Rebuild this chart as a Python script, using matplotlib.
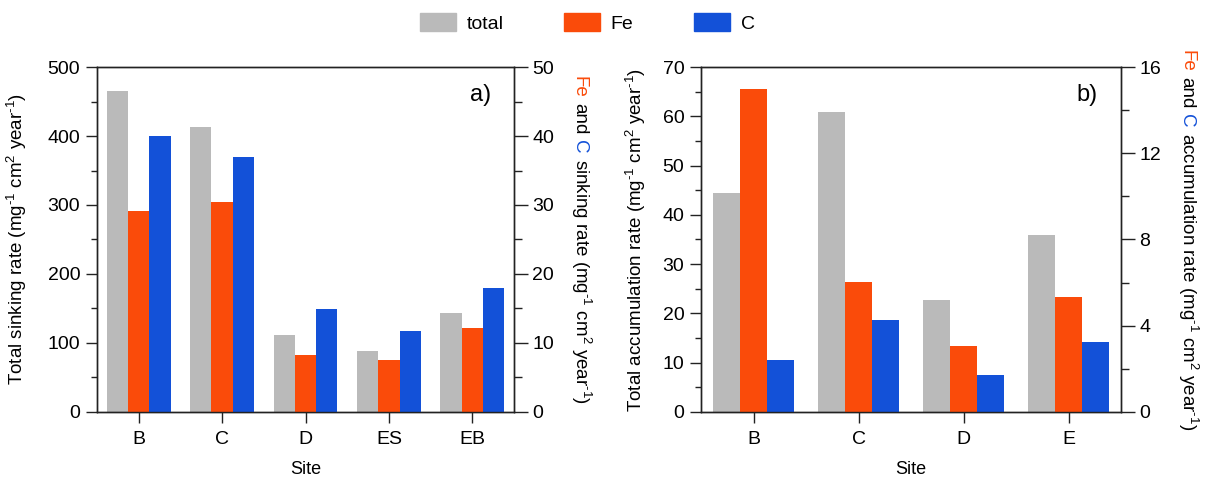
import matplotlib
matplotlib.use("Agg")
import matplotlib.pyplot as plt
import numpy as np
from matplotlib.ticker import MultipleLocator
from matplotlib.patches import Patch
from matplotlib.transforms import IdentityTransform

plt.rcParams["font.family"] = ["Liberation Sans", "DejaVu Sans"]
plt.rcParams["mathtext.fontset"] = "custom"
plt.rcParams["mathtext.rm"] = "Liberation Sans"
plt.rcParams["mathtext.it"] = "Liberation Sans:italic"
plt.rcParams["mathtext.default"] = "regular"

# data
sites_a = ["B", "C", "D", "ES", "EB"]
total_a = [465, 413, 111, 88, 143]
fe_a = [29.1, 30.4, 8.2, 7.6, 12.1]
c_a = [40.0, 36.9, 14.9, 11.8, 17.9]

sites_b = ["B", "C", "D", "E"]
total_b = [44.5, 60.9, 22.8, 36.0]
fe_b = [15.0, 6.04, 3.08, 5.35]
c_b = [2.43, 4.28, 1.73, 3.26]

GRAY = "#BABABA"
ORANGE = "#FA4B0A"
BLUE = "#1351D8"
TICK_FS = 14
LAB_FS = 13.5
W = 0.255
unit = r" (mg$^{\text{-1}}$ cm$^{2}$ year$^{\text{-1}}$)"

fig = plt.figure(figsize=(12.08, 4.8), dpi=100)


def panel(rect, sites, total, fe, c, ymax1, major1, ymax2, major2, left_label, tag):
    ax = fig.add_axes(rect)
    ax2 = ax.twinx()
    x = np.arange(len(sites))
    ax.bar(x - W, total, width=W, color=GRAY)
    ax2.bar(x, fe, width=W, color=ORANGE)
    ax2.bar(x + W, c, width=W, color=BLUE)
    ax.set_xlim(-0.5, len(sites) - 0.5)
    ax.set_ylim(0, ymax1)
    ax2.set_ylim(0, ymax2)
    ax.yaxis.set_major_locator(MultipleLocator(major1))
    ax.yaxis.set_minor_locator(MultipleLocator(major1 / 2))
    ax2.yaxis.set_major_locator(MultipleLocator(major2))
    ax2.yaxis.set_minor_locator(MultipleLocator(major2 / 2))
    ax.set_xticks(x)
    ax.set_xticklabels(sites)
    for a in (ax, ax2):
        for s in a.spines.values():
            s.set_color("#222222")
            s.set_linewidth(1.0)
    ax.tick_params(axis="both", which="major", direction="out", length=8, width=1,
                   labelsize=TICK_FS, pad=4, color="#222222")
    ax.tick_params(axis="x", which="major", pad=6)
    ax.tick_params(axis="y", which="minor", direction="out", length=4.5, width=1,
                   color="#222222")
    ax2.tick_params(axis="y", which="major", direction="out", length=10, width=1,
                    labelsize=TICK_FS, pad=3, color="#222222")
    ax2.tick_params(axis="y", which="minor", direction="out", length=5.5, width=1,
                    color="#222222")
    ax.set_xlabel("Site", fontsize=13, labelpad=9)
    ax.set_ylabel(left_label + unit, fontsize=LAB_FS)
    ax.text(0.945, 0.95, tag, transform=ax.transAxes, ha="right", va="top", fontsize=17)
    return ax, ax2


ax_a, ax_a2 = panel([0.0803, 0.1417, 0.3452, 0.7187], sites_a, total_a, fe_a, c_a,
                    500, 100, 50, 10, "Total sinking rate", "a)")
ax_b, ax_b2 = panel([0.5803, 0.1417, 0.3477, 0.7187], sites_b, total_b, fe_b, c_b,
                    70, 10, 16, 4, "Total accumulation rate", "b)")
ax_a.yaxis.set_label_coords(-0.163, 0.5)
ax_b.yaxis.set_label_coords(-0.127, 0.5)


def color_label(x_base, y_center, parts):
    texts = []
    for s, col in parts:
        t = fig.text(x_base, 0, s, color=col, rotation=-90, rotation_mode="anchor",
                     ha="left", va="baseline", fontsize=LAB_FS,
                     transform=IdentityTransform())
        texts.append(t)
    fig.canvas.draw()
    r = fig.canvas.get_renderer()
    gap = 0.278 * LAB_FS * fig.dpi / 72
    lens = [t.get_window_extent(r).height for t in texts]
    total = sum(lens) + gap * (len(lens) - 1)
    y = y_center + total / 2
    for t, h in zip(texts, lens):
        t.set_position((x_base, y))
        y -= h + gap


color_label(575, 240, [("Fe", ORANGE), ("and", "black"), ("C", BLUE),
                       ("sinking rate" + unit, "black")])
color_label(1182, 240, [("Fe", ORANGE), ("and", "black"), ("C", BLUE),
                        ("accumulation rate" + unit, "black")])

handles = [Patch(color=GRAY, label="total"), Patch(color=ORANGE, label="Fe"),
           Patch(color=BLUE, label="C")]
fig.legend(handles=handles, loc="center", bbox_to_anchor=(0.486, 0.952), ncol=3,
           frameon=False, fontsize=14, handlelength=1.85, handleheight=1.0,
           handletextpad=0.56, columnspacing=3.1)

fig.savefig("out.png", dpi=100)
